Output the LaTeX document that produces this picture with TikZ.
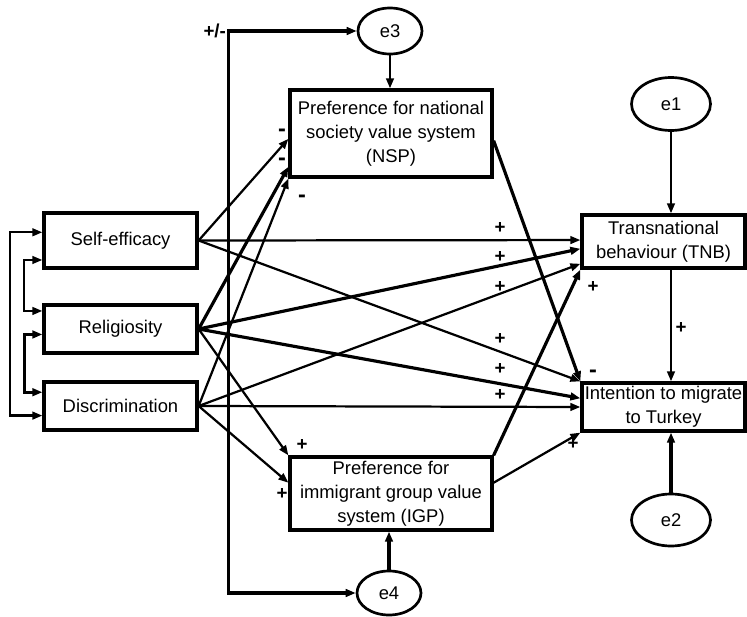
\documentclass[tikz,border=0pt]{standalone}
\usepackage{fontspec}
\setmainfont{Liberation Sans}
\usetikzlibrary{shapes.geometric,arrows.meta}
\begin{document}
\begin{tikzpicture}[x=0.03cm, y=-0.03cm, >={Triangle[length=8.5pt,width=6.5pt]},
  box/.style={draw, line width=2.8pt, align=center, inner sep=0pt, font=\fontsize{15.7}{20.5}\selectfont},
  err/.style={draw, ellipse, line width=2.3pt, inner sep=0pt, font=\fontsize{15.7}{19}\selectfont},
  arr/.style={->, line width=1.9pt},
  arrb/.style={->, line width=2.7pt},
  sign/.style={font=\fontsize{16}{16}\selectfont\bfseries, inner sep=1pt},
  neg/.style={font=\fontsize{20}{20}\selectfont\bfseries, inner sep=1pt}]
\useasboundingbox (0,0) rectangle (747,617);
% predictors
\node[box, minimum width=4.59cm, minimum height=1.65cm] (SE) at (120.5,240.5) {Self-efficacy};
\node[box, minimum width=4.59cm, minimum height=1.44cm] (REL) at (120.5,329) {Religiosity};
\node[box, minimum width=4.59cm, minimum height=1.44cm] (DIS) at (120.5,406) {Discrimination};
% mediators
\node[box, minimum width=6.06cm, minimum height=2.61cm] (NSP) at (391,133.5) {Preference for national\\society value system\\(NSP)};
\node[box, minimum width=6.06cm, minimum height=2.19cm] (IGP) at (391,493.5) {Preference for\\immigrant group value\\system (IGP)};
% outcomes
\node[box, minimum width=4.89cm, minimum height=1.59cm] (TNB) at (663.5,241.5) {Transnational\\behaviour (TNB)};
\node[box, minimum width=4.89cm, minimum height=1.44cm] (INT) at (663.5,407) {Intention to migrate\\to Turkey};
% error terms
\node[err, minimum width=2.37cm, minimum height=1.59cm] (e1) at (671,104) {e1};
\node[err, minimum width=2.37cm, minimum height=1.56cm] (e2) at (671,520) {e2};
\node[err, minimum width=1.92cm, minimum height=1.38cm] (e3) at (390,31) {e3};
\node[err, minimum width=1.92cm, minimum height=1.32cm] (e4) at (389,593) {e4};
% correlations on the left
\draw [arr, <->] (SE.174) -- ++(-32,0) |- (DIS.187);
\draw [arr, <->] (SE.194) -- ++(-18,0) |- (REL.167);
\draw [arrb, <->] (REL.184) -- ++(-18,0) |- (DIS.170);
\draw [arrb, <->] (e3.west) -- ++(-128,0) node[sign, left] (pm) {+/-} |- (e4.west);
% error paths
\path [arr] (e1.south) edge (e1 |- TNB.north);
\path [arrb] (e2.north) edge (e2 |- INT.south);
\path [arr] (e3.south) edge (e3 |- NSP.north);
\path [arrb] (e4.north) edge (e4 |- IGP.south);
% paths to NSP and IGP
\path [arr] (SE.east) edge (NSP.183);
\path [arrb] (REL.east) edge (NSP.198);
\path [arr] (DIS.east) edge (NSP.south west);
\path [arr] (REL.east) edge (IGP.north west);
\path [arr] (DIS.east) edge (IGP.174);
% paths to TNB
\path [arr] (SE.east) edge (TNB.179);
\path [arrb] (REL.east) edge (TNB.185);
\path [arr] (DIS.east) edge (TNB.195);
\path [arrb] (IGP.north east) edge (TNB.south west);
% paths to intention
\path [arr] (SE.east) edge (INT.north west);
\path [arrb] (REL.east) edge (INT.174);
\path [arr] (DIS.east) edge (INT.west);
\path [arrb] (NSP.356) edge (INT.north west);
\path [arr] (IGP.6) edge (INT.south west);
\path [arr] (e1 |- TNB.south) edge (e1 |- INT.north);
% signs
\node[neg] (s1) at (282,133) {-};
\node[neg] (s2) at (282,162) {-};
\node[neg] (s3) at (302,199) {-};
\node[sign] (s4) at (500,228) {+};
\node[sign] (s5) at (500,257) {+};
\node[sign] (s6) at (500,287) {+};
\node[sign] (s7) at (500,339) {+};
\node[sign] (s8) at (500,369) {+};
\node[sign] (s9) at (500,395) {+};
\node[sign] (s10) at (593,287) {+};
\node[neg] (s11) at (593,374) {-};
\node[sign] (s12) at (573,444) {+};
\node[sign] (s13) at (681,328) {+};
\node[sign] (s14) at (302,445) {+};
\node[sign] (s15) at (282,494) {+};
\end{tikzpicture}
\end{document}
